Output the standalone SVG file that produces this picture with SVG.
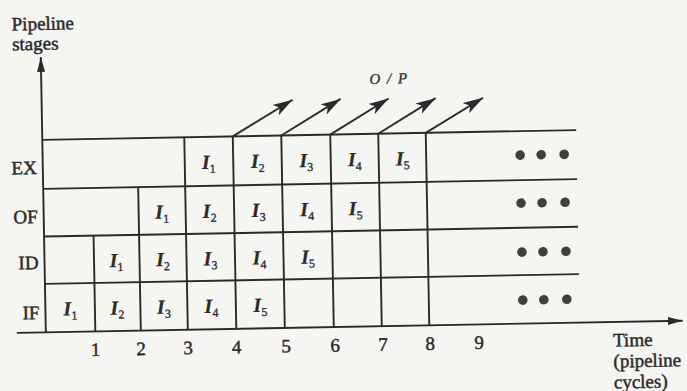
<svg xmlns="http://www.w3.org/2000/svg" width="687" height="391" viewBox="0 0 687 391">
<defs>
<marker id="ah" markerUnits="userSpaceOnUse" markerWidth="22" markerHeight="13" refX="20" refY="6.5" orient="auto">
<path d="M0,0.5 L20,6.5 L0,12.5 L5,6.5 Z" fill="#2a2a2a"/>
</marker>
<marker id="ax" markerUnits="userSpaceOnUse" markerWidth="16" markerHeight="10" refX="15" refY="5" orient="auto">
<path d="M0,1 L15,5 L0,9 Z" fill="#2a2a2a"/>
</marker>
</defs>
<style>
.ln{stroke:#2a2a2a;stroke-width:1.9;fill:none}
.t{font-family:"Liberation Serif","Times New Roman",serif;font-size:19px;fill:#2a2a2a;stroke:#2a2a2a;stroke-width:0.45}
.r{text-anchor:end}
.m{text-anchor:middle}
.i{font-style:italic;font-weight:bold;text-anchor:middle;font-size:20px;stroke-width:0.2}
.sub{font-size:12px;font-style:normal;font-weight:normal;stroke-width:0.3}
.dot{fill:#3d403d}
</style>
<rect width="687" height="391" fill="#f5f5f2"/>
<g transform="rotate(-1.05 310 230)">
<g id="axes">
<line class="ln" x1="44" y1="327.5" x2="44" y2="52" marker-end="url(#ax)"/>
<line class="ln" x1="15" y1="327.5" x2="681" y2="327.5" marker-end="url(#ax)"/>
<text class="t" x="15.5" y="25">Pipeline</text>
<text class="t" x="15.5" y="45">stages</text>
<text class="t" x="611" y="352">Time</text>
<text class="t" x="611" y="373">(pipeline</text>
<text class="t" x="611" y="394">cycles)</text>
</g>
<g id="grid">
<line class="ln" x1="44" y1="135" x2="578" y2="135"/>
<line class="ln" x1="44" y1="184" x2="578" y2="184"/>
<line class="ln" x1="44" y1="231.7" x2="578" y2="231.7"/>
<line class="ln" x1="44" y1="279" x2="578" y2="279"/>
<line class="ln" x1="93.5" y1="231.7" x2="93.5" y2="327.5"/>
<line class="ln" x1="139" y1="184" x2="139" y2="327.5"/>
<line class="ln" x1="186" y1="135" x2="186" y2="327.5"/>
<line class="ln" x1="234.5" y1="135" x2="234.5" y2="327.5"/>
<line class="ln" x1="283" y1="135" x2="283" y2="327.5"/>
<line class="ln" x1="332" y1="135" x2="332" y2="327.5"/>
<line class="ln" x1="380" y1="135" x2="380" y2="327.5"/>
<line class="ln" x1="427.5" y1="135" x2="427.5" y2="327.5"/>
</g>
<g id="stage-labels">
<text class="t r" x="38" y="169">EX</text>
<text class="t r" x="38" y="218">OF</text>
<text class="t r" x="38" y="264">ID</text>
<text class="t r" x="38" y="314">IF</text>
</g>
<g id="ticks">
<text class="t m" x="93.5" y="352">1</text>
<text class="t m" x="139" y="352">2</text>
<text class="t m" x="186" y="352">3</text>
<text class="t m" x="234.5" y="352">4</text>
<text class="t m" x="284" y="352">5</text>
<text class="t m" x="333" y="352">6</text>
<text class="t m" x="381" y="352">7</text>
<text class="t m" x="428" y="352">8</text>
<text class="t m" x="477" y="352">9</text>
</g>
<g id="row-EX">
<text class="t i" x="210" y="167">I<tspan class="sub" dy="4">1</tspan></text>
<text class="t i" x="259" y="167">I<tspan class="sub" dy="4">2</tspan></text>
<text class="t i" x="307.5" y="167">I<tspan class="sub" dy="4">3</tspan></text>
<text class="t i" x="356" y="167">I<tspan class="sub" dy="4">4</tspan></text>
<text class="t i" x="404" y="167">I<tspan class="sub" dy="4">5</tspan></text>
</g>
<g id="row-OF">
<text class="t i" x="162.5" y="216">I<tspan class="sub" dy="4">1</tspan></text>
<text class="t i" x="210" y="216">I<tspan class="sub" dy="4">2</tspan></text>
<text class="t i" x="259" y="216">I<tspan class="sub" dy="4">3</tspan></text>
<text class="t i" x="307.5" y="216">I<tspan class="sub" dy="4">4</tspan></text>
<text class="t i" x="356" y="216">I<tspan class="sub" dy="4">5</tspan></text>
</g>
<g id="row-ID">
<text class="t i" x="116" y="263.5">I<tspan class="sub" dy="4">1</tspan></text>
<text class="t i" x="162.5" y="263.5">I<tspan class="sub" dy="4">2</tspan></text>
<text class="t i" x="210" y="263.5">I<tspan class="sub" dy="4">3</tspan></text>
<text class="t i" x="259" y="263.5">I<tspan class="sub" dy="4">4</tspan></text>
<text class="t i" x="307.5" y="263.5">I<tspan class="sub" dy="4">5</tspan></text>
</g>
<g id="row-IF">
<text class="t i" x="69" y="311">I<tspan class="sub" dy="4">1</tspan></text>
<text class="t i" x="116" y="311">I<tspan class="sub" dy="4">2</tspan></text>
<text class="t i" x="162.5" y="311">I<tspan class="sub" dy="4">3</tspan></text>
<text class="t i" x="210" y="311">I<tspan class="sub" dy="4">4</tspan></text>
<text class="t i" x="259" y="311">I<tspan class="sub" dy="4">5</tspan></text>
</g>
<g id="dots">
<circle class="dot" cx="521.5" cy="159" r="4.8"/><circle class="dot" cx="542.5" cy="159" r="4.8"/><circle class="dot" cx="565.5" cy="159" r="4.8"/>
<circle class="dot" cx="521.5" cy="207" r="4.8"/><circle class="dot" cx="542.5" cy="207" r="4.8"/><circle class="dot" cx="565.5" cy="207" r="4.8"/>
<circle class="dot" cx="521.5" cy="256" r="4.8"/><circle class="dot" cx="542.5" cy="256" r="4.8"/><circle class="dot" cx="565.5" cy="256" r="4.8"/>
<circle class="dot" cx="521.5" cy="304" r="4.8"/><circle class="dot" cx="542.5" cy="304" r="4.8"/><circle class="dot" cx="565.5" cy="304" r="4.8"/>
</g>
<g id="connectors">
<line class="ln" x1="234.5" y1="135" x2="295" y2="99.5" marker-end="url(#ah)"/>
<line class="ln" x1="283" y1="135" x2="343" y2="99.5" marker-end="url(#ah)"/>
<line class="ln" x1="332" y1="135" x2="391" y2="100" marker-end="url(#ah)"/>
<line class="ln" x1="380" y1="135" x2="438" y2="100.5" marker-end="url(#ah)"/>
<line class="ln" x1="427.5" y1="135" x2="485.5" y2="101" marker-end="url(#ah)"/>
<text class="t" x="391" y="85" style="font-size:15px;font-style:italic;text-anchor:middle;word-spacing:3px;stroke-width:0.3">O / P</text>
</g>
</g>
</svg>
